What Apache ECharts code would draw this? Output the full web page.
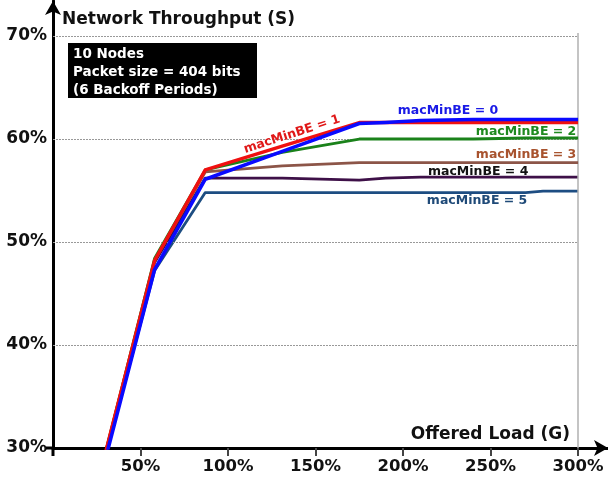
<!DOCTYPE html>
<html>
<head>
<meta charset="utf-8">
<script src="https://cdn.jsdelivr.net/npm/echarts@6/dist/echarts.min.js"></script>
<style>
html,body{margin:0;padding:0;background:#fff;}
#c{width:608px;height:484px;}
</style>
</head>
<body>
<div id="c"></div>
<script>
// Offered load G (%)
const loadG = [29, 58, 87, 131, 175, 190, 210, 240, 270, 280, 300];
// Throughput S (%) per macMinBE
const be0 = [28.3, 47.3, 56.1, 58.8, 61.5, 61.6, 61.8, 61.9, 61.9, 61.9, 61.9];
const be1 = [28.9, 48.2, 57.0, 59.3, 61.6, 61.6, 61.6, 61.6, 61.6, 61.6, 61.6];
const be2 = [28.9, 48.4, 57.0, 58.7, 60.0, 60.0, 60.0, 60.0, 60.1, 60.1, 60.1];
const be3 = [28.9, 48.2, 56.8, 57.4, 57.7, 57.7, 57.7, 57.7, 57.7, 57.7, 57.7];
const be4 = [28.8, 48.0, 56.2, 56.2, 56.0, 56.2, 56.3, 56.3, 56.3, 56.3, 56.3];
const be5 = [28.6, 47.2, 54.8, 54.8, 54.8, 54.8, 54.8, 54.8, 54.8, 54.95, 54.95];
const seriesNames = ['macMinBE = 0','macMinBE = 1','macMinBE = 2','macMinBE = 3','macMinBE = 4','macMinBE = 5'];
// label anchor positions (data coordinates)
const labelPos = [[225.7, 62.75], [136.5, 60.45], [270.3, 60.75], [270.3, 58.5], [242.9, 56.8], [242.3, 54.0]];
const xTicks = [50, 100, 150, 200, 250, 300];
const yTicks = [30, 40, 50, 60, 70];
const gridY = [40, 50, 60, 70];

const FONT = 'DejaVu Sans';
const lineColors = ['#0a0aff', '#f01010', '#1a821a', '#8c5548', '#3e1048', '#1d4d82'];
const textColors = ['#1a1ae6', '#e01818', '#1f8a1f', '#a8532e', '#111111', '#1f4a78'];
const widths = [3.6, 3.4, 2.8, 2.8, 2.8, 2.8];
const allVals = [be0, be1, be2, be3, be4, be5];

const chart = echarts.init(document.getElementById('c'), null, {renderer: 'canvas'});

const series = [];
series.push({
  type: 'line', data: [], silent: true, z: 1,
  markLine: {
    silent: true, symbol: 'none', animation: false,
    label: {show: false},
    data: gridY.map(v => [{coord: [0, v], lineStyle: {type: [2, 1], color: '#999', width: 1}}, {coord: [300, v]}])
      .concat([[{coord: [300, 30], lineStyle: {type: 'solid', color: '#b0b0b0', width: 1.5}}, {coord: [300, 70.3]}]])
  }
});
for (let i = 5; i >= 0; i--) {
  series.push({
    name: seriesNames[i], type: 'line', z: 3 + (5 - i),
    data: loadG.map((g, k) => [g, allVals[i][k]]),
    symbol: 'none', showSymbol: false,
    lineStyle: {color: lineColors[i], width: widths[i], join: 'round'},
    itemStyle: {color: lineColors[i]},
    markPoint: {
      symbol: 'circle', symbolSize: 0.1, silent: true, animation: false,
      itemStyle: {color: 'rgba(0,0,0,0)'},
      data: [{
        coord: labelPos[i],
        label: {
          show: true, position: 'inside', formatter: seriesNames[i],
          color: textColors[i], fontFamily: FONT, fontWeight: 'bold', fontSize: 12.5,
          rotate: i === 1 ? 18 : 0
        }
      }]
    }
  });
}

chart.setOption({
  animation: false,
  backgroundColor: '#ffffff',
  grid: {left: 53, right: 0, top: 1, bottom: 36, containLabel: false},
  xAxis: {
    type: 'value', min: 0, max: 317.1,
    axisLine: {show: true, onZero: false, lineStyle: {color: '#000', width: 3}, symbol: ['none', 'arrow'], symbolSize: [12, 14]},
    axisTick: {show: true, customValues: xTicks, length: 8, lineStyle: {color: '#444', width: 2}},
    axisLabel: {customValues: xTicks, formatter: v => v + '%', color: '#111', fontFamily: FONT, fontWeight: 'bold', fontSize: 16.5, margin: 10},
    splitLine: {show: false}
  },
  yAxis: {
    type: 'value', min: 30, max: 73.4,
    axisLine: {show: true, onZero: false, lineStyle: {color: '#000', width: 3}, symbol: ['none', 'arrow'], symbolSize: [12, 14]},
    axisTick: {show: false},
    axisLabel: {customValues: yTicks, formatter: v => v + '%', color: '#111', fontFamily: FONT, fontWeight: 'bold', fontSize: 17, margin: 6},
    splitLine: {show: false}
  },
  series: series
});

const o = chart.convertToPixel({gridIndex: 0}, [0, 30]);
chart.setOption({
  graphic: [
    {type: 'line', shape: {x1: o[0], y1: o[1], x2: o[0], y2: o[1] + 8}, style: {stroke: '#000', lineWidth: 3}, z: 10},
    {type: 'line', shape: {x1: o[0] - 7, y1: o[1], x2: o[0], y2: o[1]}, style: {stroke: '#000', lineWidth: 3}, z: 10},
    {type: 'text', left: 62, top: 11, style: {text: 'Network Throughput (S)', fill: '#111', font: 'bold 17px "DejaVu Sans"'}},
    {type: 'text', right: 38, top: 426, style: {text: 'Offered Load (G)', fill: '#111', font: 'bold 17px "DejaVu Sans"'}},
    {type: 'rect', left: 68, top: 43, shape: {width: 189, height: 55}, style: {fill: '#000'}, z: 20},
    {type: 'text', left: 73, top: 45, z: 21, style: {text: '10 Nodes\nPacket size = 404 bits\n(6 Backoff Periods)', fill: '#fff', font: 'bold 13.5px "DejaVu Sans"', lineHeight: 18.3}}
  ]
});
</script>
</body>
</html>
